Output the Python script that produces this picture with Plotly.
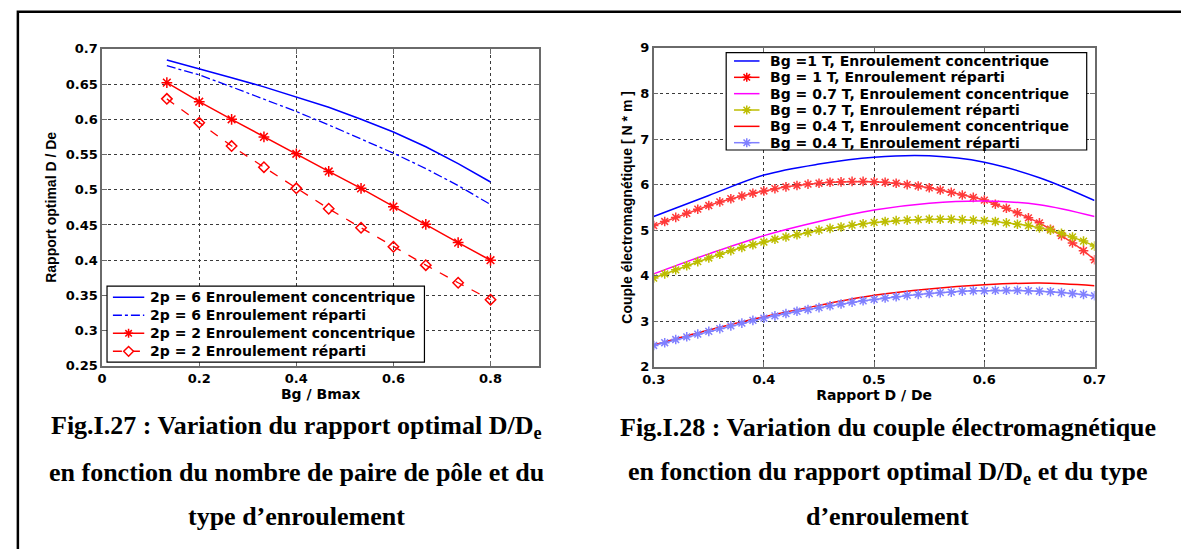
import plotly.graph_objects as go

W, H = 1181, 549

# ---------------- Fig.I.27 data ----------------
bg_bmax = [0.1333, 0.2, 0.2667, 0.3333, 0.4, 0.4667, 0.5333, 0.6, 0.6667, 0.7333, 0.8]
p6_concentrique = [0.684, 0.672, 0.659, 0.646, 0.632, 0.617, 0.600, 0.582, 0.561, 0.537, 0.511]
p6_reparti = [0.676, 0.663, 0.646, 0.629, 0.611, 0.592, 0.572, 0.552, 0.530, 0.506, 0.479]
p2_concentrique = [0.652, 0.625, 0.600, 0.575, 0.551, 0.526, 0.502, 0.476, 0.451, 0.425, 0.400]
p2_reparti = [0.629, 0.595, 0.562, 0.532, 0.502, 0.473, 0.446, 0.419, 0.393, 0.368, 0.344]
fig27_xticks = [0, 0.2, 0.4, 0.6, 0.8]
fig27_yticks = [0.25, 0.3, 0.35, 0.4, 0.45, 0.5, 0.55, 0.6, 0.65, 0.7]
fig27_names = ["2p = 6 Enroulement concentrique",
               "2p = 6 Enroulement réparti",
               "2p = 2 Enroulement concentrique",
               "2p = 2 Enroulement réparti"]

# ---------------- Fig.I.28 data ----------------
d_de_fine = [0.30, 0.31, 0.32, 0.33, 0.34, 0.35, 0.36, 0.37, 0.38, 0.39, 0.40,
             0.41, 0.42, 0.43, 0.44, 0.45, 0.46, 0.47, 0.48, 0.49, 0.50,
             0.51, 0.52, 0.53, 0.54, 0.55, 0.56, 0.57, 0.58, 0.59, 0.60,
             0.61, 0.62, 0.63, 0.64, 0.65, 0.66, 0.67, 0.68, 0.69, 0.70]
d_de_coarse = [0.30, 0.35, 0.40, 0.45, 0.50, 0.55, 0.60, 0.65, 0.70]
bg1_concentrique = [5.30, 5.76, 6.21, 6.45, 6.60, 6.63, 6.49, 6.15, 5.65]
bg1_reparti = [5.10, 5.19, 5.28, 5.37, 5.46, 5.54, 5.62, 5.69, 5.75, 5.81, 5.86,
               5.91, 5.95, 5.98, 6.01, 6.03, 6.05, 6.06, 6.07, 6.07, 6.06,
               6.05, 6.03, 6.00, 5.97, 5.93, 5.88, 5.83, 5.77, 5.72, 5.66,
               5.57, 5.48, 5.38, 5.27, 5.16, 5.02, 4.88, 4.72, 4.55, 4.35]
bg07_concentrique = [4.04, 4.48, 4.88, 5.19, 5.44, 5.59, 5.64, 5.56, 5.30]
bg07_reparti = [3.95, 4.04, 4.13, 4.22, 4.31, 4.39, 4.47, 4.55, 4.62, 4.68, 4.74,
                4.80, 4.85, 4.90, 4.95, 5.00, 5.04, 5.07, 5.11, 5.14, 5.17,
                5.19, 5.21, 5.22, 5.23, 5.24, 5.24, 5.24, 5.23, 5.22, 5.21,
                5.19, 5.16, 5.13, 5.10, 5.05, 5.00, 4.93, 4.85, 4.76, 4.65]
bg04_concentrique = [2.48, 2.81, 3.10, 3.35, 3.57, 3.71, 3.80, 3.84, 3.78]
bg04_reparti = [2.47, 2.53, 2.60, 2.66, 2.72, 2.78, 2.84, 2.90, 2.96, 3.02, 3.07,
                3.12, 3.17, 3.22, 3.26, 3.30, 3.34, 3.38, 3.42, 3.45, 3.48,
                3.51, 3.54, 3.57, 3.59, 3.61, 3.63, 3.64, 3.66, 3.67, 3.67,
                3.68, 3.68, 3.68, 3.67, 3.66, 3.65, 3.63, 3.61, 3.59, 3.56]
fig28_xticks = [0.3, 0.4, 0.5, 0.6, 0.7]
fig28_yticks = [2, 3, 4, 5, 6, 7, 8, 9]
fig28_names = ["Bg =1 T, Enroulement concentrique",
               "Bg = 1 T, Enroulement réparti",
               "Bg = 0.7 T, Enroulement concentrique",
               "Bg = 0.7 T, Enroulement réparti",
               "Bg = 0.4 T, Enroulement concentrique",
               "Bg = 0.4 T, Enroulement réparti"]

caption27 = ["Fig.I.27 : Variation du rapport optimal D/D<sub>e</sub>",
             "en fonction du nombre de paire de pôle et du",
             "type d’enroulement"]
caption28 = ["Fig.I.28 : Variation du couple électromagnétique",
             "en fonction du rapport optimal D/D<sub>e</sub> et du type",
             "d’enroulement"]

BLUE = "#0000ff"
RED = "#ff0000"
RED_STAR = "#ff3a3a"
MAGENTA = "#ff00ff"
OLIVE = "#bdbd00"
LIGHTBLUE = "#8080ff"

def fx(x):
    return x / W

def fy(y):
    return 1 - y / H

fig = go.Figure()

# ---- left chart traces
fig.add_trace(go.Scatter(x=bg_bmax, y=p6_concentrique, mode="lines",
                         line=dict(color=BLUE, width=1.5), xaxis="x", yaxis="y"))
fig.add_trace(go.Scatter(x=bg_bmax, y=p6_reparti, mode="lines",
                         line=dict(color=BLUE, width=1.3, dash="dashdot"), xaxis="x", yaxis="y"))
fig.add_trace(go.Scatter(x=bg_bmax, y=p2_concentrique, mode="lines+markers",
                         line=dict(color=RED, width=1.5),
                         marker=dict(symbol="asterisk-open", size=9, color=RED,
                                     line=dict(color=RED, width=1.5)),
                         xaxis="x", yaxis="y"))
fig.add_trace(go.Scatter(x=bg_bmax, y=p2_reparti, mode="lines+markers",
                         line=dict(color=RED, width=1.3, dash="dash"),
                         marker=dict(symbol="diamond-open", size=8, color=RED,
                                     line=dict(color=RED, width=1.5)),
                         xaxis="x", yaxis="y"))

# ---- right chart traces
fig.add_trace(go.Scatter(x=d_de_coarse, y=bg1_concentrique, mode="lines",
                         line=dict(color=BLUE, width=1.5, shape="spline"), xaxis="x2", yaxis="y2"))
fig.add_trace(go.Scatter(x=d_de_fine, y=bg1_reparti, mode="lines+markers",
                         line=dict(color=RED_STAR, width=1.5),
                         marker=dict(symbol="asterisk-open", size=8,
                                     line=dict(color=RED_STAR, width=1.5)),
                         xaxis="x2", yaxis="y2"))
fig.add_trace(go.Scatter(x=d_de_coarse, y=bg07_concentrique, mode="lines",
                         line=dict(color=MAGENTA, width=1.5, shape="spline"), xaxis="x2", yaxis="y2"))
fig.add_trace(go.Scatter(x=d_de_fine, y=bg07_reparti, mode="lines+markers",
                         line=dict(color=OLIVE, width=1.5),
                         marker=dict(symbol="asterisk-open", size=8,
                                     line=dict(color=OLIVE, width=1.5)),
                         xaxis="x2", yaxis="y2"))
fig.add_trace(go.Scatter(x=d_de_coarse, y=bg04_concentrique, mode="lines",
                         line=dict(color=RED, width=1.5, shape="spline"), xaxis="x2", yaxis="y2"))
fig.add_trace(go.Scatter(x=d_de_fine, y=bg04_reparti, mode="lines+markers",
                         line=dict(color=LIGHTBLUE, width=1.5),
                         marker=dict(symbol="asterisk-open", size=8,
                                     line=dict(color=LIGHTBLUE, width=1.5)),
                         xaxis="x2", yaxis="y2"))

tickfont = dict(family="DejaVu Sans", size=13, color="black", weight="bold")
axis_common = dict(showline=True, mirror="ticks", linecolor="#6a6a6a", linewidth=1.5,
                   ticks="inside", ticklen=5, tickcolor="#6a6a6a", tickwidth=1,
                   showgrid=True, gridcolor="#3a3a3a", griddash="dot", gridwidth=1,
                   zeroline=False, tickfont=tickfont)

xtitle_font = dict(family="DejaVu Sans", size=14, color="black", weight="bold")
ytitle_font = dict(family="Liberation Sans", size=14, color="black", weight="bold")

fig.update_layout(
    width=W, height=H, autosize=False,
    margin=dict(l=0, r=0, t=0, b=0),
    paper_bgcolor="white", plot_bgcolor="white",
    showlegend=False,
    xaxis=dict(domain=[fx(92), fx(538)], range=[0, 0.9], tickvals=fig27_xticks,
               anchor="y", title=dict(text="Bg / Bmax", font=xtitle_font, standoff=3), **axis_common),
    yaxis=dict(domain=[fy(369), fy(43)], range=[0.25, 0.7], tickvals=fig27_yticks,
               anchor="x", title=dict(text="Rapport optimal D / De", font=ytitle_font, standoff=6),
               **axis_common),
    xaxis2=dict(domain=[fx(655), fx(1105)], range=[0.3, 0.7], tickvals=fig28_xticks,
                anchor="y2", title=dict(text="Rapport D / De", font=xtitle_font, standoff=3), **axis_common),
    yaxis2=dict(domain=[fy(370), fy(42)], range=[2, 9], tickvals=fig28_yticks,
                anchor="x2", title=dict(text="Couple électromagnétique [ N * m ]", font=ytitle_font, standoff=4),
                **axis_common),
)

shapes = []
annotations = []

# outer frame of the page
shapes.append(dict(type="rect", xref="paper", yref="paper",
                   x0=fx(6), x1=fx(1195), y0=fy(565), y1=fy(5),
                   line=dict(color="black", width=2.5), fillcolor="rgba(0,0,0,0)", layer="above"))


def star_path(cx, cy, r):
    r2 = r * 0.72
    segs = [((cx - r, cy), (cx + r, cy)), ((cx, cy - r), (cx, cy + r)),
            ((cx - r2, cy - r2), (cx + r2, cy + r2)), ((cx - r2, cy + r2), (cx + r2, cy - r2))]
    return " ".join(f"M{fx(a[0]):.5f},{fy(a[1]):.5f} L{fx(b[0]):.5f},{fy(b[1]):.5f}" for a, b in segs)


def diamond_path(cx, cy, r):
    return (f"M{fx(cx - r):.5f},{fy(cy):.5f} L{fx(cx):.5f},{fy(cy - r):.5f} "
            f"L{fx(cx + r):.5f},{fy(cy):.5f} L{fx(cx):.5f},{fy(cy + r):.5f} Z")


legend_font = dict(family="DejaVu Sans", size=14, color="black", weight="bold")


def add_legend(box, rows, x_line, x_text, styles, names):
    x0, y0, x1, y1 = box
    shapes.append(dict(type="rect", xref="paper", yref="paper",
                       x0=fx(x0), x1=fx(x1), y0=fy(y1), y1=fy(y0),
                       line=dict(color="black", width=1.2), fillcolor="white", layer="above"))
    for yc, (color, dash, marker), name in zip(rows, styles, names):
        shapes.append(dict(type="line", xref="paper", yref="paper",
                           x0=fx(x_line[0]), x1=fx(x_line[1]), y0=fy(yc), y1=fy(yc),
                           line=dict(color=color, width=1.5, dash=dash), layer="above"))
        cx = (x_line[0] + x_line[1]) / 2
        if marker == "star":
            shapes.append(dict(type="path", xref="paper", yref="paper", path=star_path(cx, yc, 4.6),
                               line=dict(color=color, width=1.5), layer="above"))
        elif marker == "diamond":
            shapes.append(dict(type="path", xref="paper", yref="paper", path=diamond_path(cx, yc, 5),
                               line=dict(color=color, width=1.5), fillcolor="white", layer="above"))
        annotations.append(dict(x=fx(x_text), y=fy(yc), xref="paper", yref="paper",
                                text=name, showarrow=False, xanchor="left", yanchor="middle",
                                font=legend_font))


add_legend((97, 287, 421, 365), [298.5, 317, 335.5, 354], (103, 135), 139,
           [(BLUE, "solid", None), (BLUE, "dashdot", None), (RED, "solid", "star"), (RED, "dash", "diamond")],
           fig27_names)
add_legend((729, 47, 1097, 147), [55.5, 72.3, 89.1, 105.9, 122.7, 139.5], (737, 763), 772,
           [(BLUE, "solid", None), (RED, "solid", "star"), (MAGENTA, "solid", None),
            (OLIVE, "solid", "star"), (RED, "solid", None), (LIGHTBLUE, "solid", "star")],
           fig28_names)

cap_font = dict(family="Liberation Serif", size=26, color="black", weight="bold")
for cx, lines in ((290, caption27), (894, caption28)):
    for yc, txt in zip((432, 479, 524), lines):
        annotations.append(dict(x=fx(cx), y=fy(yc), xref="paper", yref="paper", text=txt,
                                showarrow=False, xanchor="center", yanchor="middle", font=cap_font))

fig.update_layout(shapes=shapes, annotations=annotations)
fig.write_html("out.html")
